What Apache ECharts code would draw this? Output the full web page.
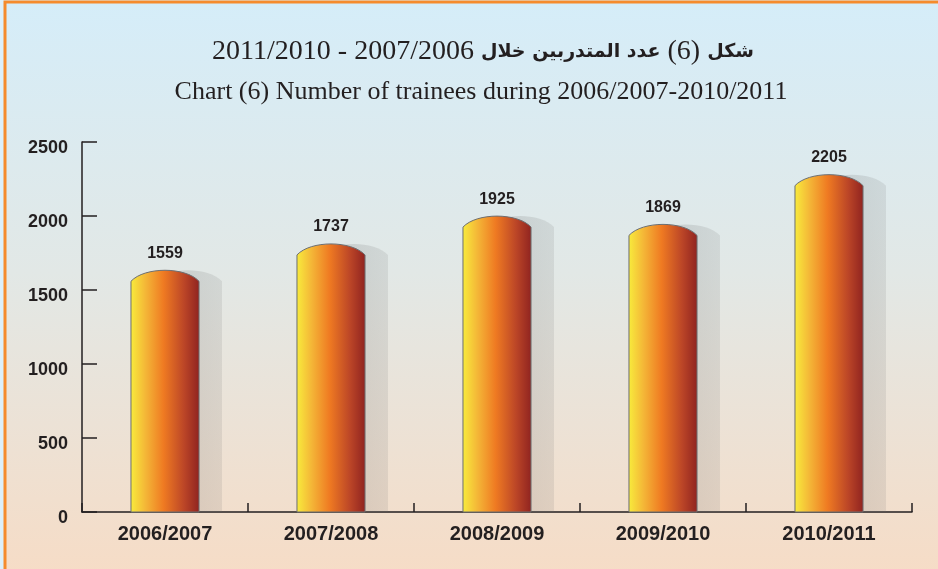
<!DOCTYPE html>
<html lang="ar">
<head>
    <meta charset="UTF-8">
    <title>Number of trainees</title>
    <script src="https://cdn.jsdelivr.net/npm/echarts@6/dist/echarts.min.js"></script>
    <style>
        html, body { margin: 0; padding: 0; background: #dcf0fb; }
        #chart { width: 938px; height: 569px; }
    </style>
</head>
<body>
    <div id="chart"></div>
    <script>
        // 数据
        let years = ['2006/2007', '2007/2008', '2008/2009', '2009/2010', '2010/2011'];
        let trainees = [1559, 1737, 1925, 1869, 2205];
        let yTicks = [0, 500, 1000, 1500, 2000, 2500];

        // 标题文字
        let titleYears = '2011/2010 - 2007/2006 ';
        let titleArabic1 = 'عدد المتدربين خلال';
        let titleNum = ' (6) ';
        let titleArabic2 = 'شكل';
        let titleEnglish = 'Chart (6) Number of trainees during 2006/2007-2010/2011';

        let ink = '#231f20';
        let capH = 11;       // 圆顶高度
        let shadowDx = 23;   // 阴影偏移

        let chart = echarts.init(document.getElementById('chart'));

        let barFill = new echarts.graphic.LinearGradient(0, 0, 1, 0, [
            { offset: 0, color: '#f8ec3c' },
            { offset: 0.22, color: '#f4b637' },
            { offset: 0.48, color: '#ef7a22' },
            { offset: 0.78, color: '#bb4527' },
            { offset: 1, color: '#8f2320' }
        ]);
        let shadowFill = new echarts.graphic.LinearGradient(0, 0, 1, 0, [
            { offset: 0, color: 'rgba(110,110,110,0.24)' },
            { offset: 1, color: 'rgba(110,110,110,0.14)' }
        ]);

        // 圆顶柱形路径
        function domePath(l, r, top, bottom) {
            let w = r - l;
            let k = capH * 4 / 3;
            return 'M' + l + ' ' + bottom + 'L' + l + ' ' + top +
                'C' + (l + w * 0.2) + ' ' + (top - k) + ' ' + (r - w * 0.2) + ' ' + (top - k) + ' ' + r + ' ' + top +
                'L' + r + ' ' + bottom + 'Z';
        }

        function renderBar(params, api) {
            let idx = api.value(0);
            let val = api.value(1);
            let top = api.coord([idx, val]);
            let base = api.coord([idx, 0]);
            let band = api.size([1, 0])[0];
            let w = band * 0.41;
            let l = top[0] - w / 2;
            let r = top[0] + w / 2;
            return {
                type: 'group',
                children: [
                    {
                        type: 'path',
                        shape: { pathData: domePath(l + shadowDx, r + shadowDx, top[1], base[1]) },
                        style: { fill: shadowFill }
                    },
                    {
                        type: 'path',
                        shape: { pathData: domePath(l, r, top[1], base[1]) },
                        style: { fill: barFill, stroke: '#6d6e71', lineWidth: 1 }
                    },
                    {
                        type: 'text',
                        style: {
                            text: String(val),
                            x: top[0],
                            y: top[1] - capH - 17,
                            align: 'center',
                            verticalAlign: 'middle',
                            fill: ink,
                            font: 'bold 16px "Liberation Sans", Arial, sans-serif'
                        }
                    }
                ]
            };
        }

        chart.setOption({
            animation: false,
            graphic: [{
                type: 'rect',
                z: -10,
                shape: { x: 5, y: 2, width: 950, height: 600 },
                style: {
                    fill: new echarts.graphic.LinearGradient(0, 0, 0, 1, [
                        { offset: 0, color: '#d5edf9' },
                        { offset: 0.45, color: '#e2e8e6' },
                        { offset: 1, color: '#f8dbc3' }
                    ]),
                    stroke: '#f58b2d',
                    lineWidth: 3
                }
            }],
            title: [{
                text: '{n|' + titleYears + '}{a|' + titleArabic1 + '}{n|' + titleNum + '}{a|' + titleArabic2 + '}',
                left: 478,
                top: 33,
                textAlign: 'center',
                textStyle: {
                    fontWeight: 'normal',
                    rich: {
                        n: { fontFamily: '"Liberation Serif", serif', fontWeight: 'normal', fontSize: 28, color: ink },
                        a: { fontFamily: '"DejaVu Sans", sans-serif', fontWeight: 'bold', fontSize: 19, color: ink }
                    }
                }
            }, {
                text: titleEnglish,
                left: 476,
                top: 74,
                textAlign: 'center',
                textStyle: { fontFamily: '"Liberation Serif", serif', fontSize: 26, fontWeight: 'normal', color: ink }
            }],
            grid: { left: 82, right: 26, top: 142, bottom: 57 },
            xAxis: {
                type: 'category',
                data: years,
                boundaryGap: true,
                axisLine: { show: true, lineStyle: { color: ink, width: 1.5 } },
                axisTick: { show: true, inside: true, length: 9, interval: 0, lineStyle: { color: ink, width: 1.5 } },
                axisLabel: {
                    margin: 12,
                    color: ink,
                    fontFamily: '"Liberation Sans", Arial, sans-serif',
                    fontWeight: 'bold',
                    fontSize: 20
                },
                splitLine: { show: false }
            },
            yAxis: {
                type: 'value',
                min: yTicks[0],
                max: yTicks[yTicks.length - 1],
                interval: yTicks[1] - yTicks[0],
                axisLine: { show: true, lineStyle: { color: ink, width: 1.5 } },
                axisTick: { show: true, inside: true, length: 15, lineStyle: { color: ink, width: 1.5 } },
                axisLabel: {
                    margin: 14,
                    verticalAlign: 'top',
                    lineHeight: 12,
                    color: ink,
                    formatter: v => String(v),
                    fontFamily: '"Liberation Sans", Arial, sans-serif',
                    fontWeight: 'bold',
                    fontSize: 18
                },
                splitLine: { show: false }
            },
            series: [{
                type: 'custom',
                renderItem: renderBar,
                encode: { x: 0, y: 1 },
                data: trainees.map((v, i) => [i, v]),
                clip: false
            }]
        });
    </script>
</body>
</html>
